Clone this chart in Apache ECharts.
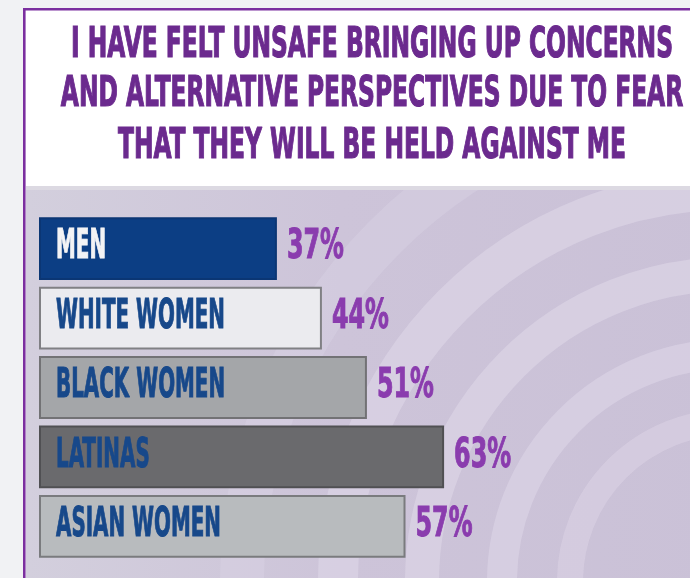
<!DOCTYPE html>
<html>
<head>
<meta charset="utf-8">
<style>
  html, body { margin: 0; padding: 0; background: #f1f2f4; }
  #chart { width: 690px; height: 578px; }
</style>
<script src="https://cdn.jsdelivr.net/npm/echarts@6/dist/echarts.min.js"></script>
</head>
<body>
<div id="chart"></div>
<script>
// Survey responses: share who felt unsafe raising concerns
const titleLines = [
  'I HAVE FELT UNSAFE BRINGING UP CONCERNS',
  'AND ALTERNATIVE PERSPECTIVES DUE TO FEAR',
  'THAT THEY WILL BE HELD AGAINST ME'
];
const categories = ['MEN', 'WHITE WOMEN', 'BLACK WOMEN', 'LATINAS', 'ASIAN WOMEN'];
const values = [37, 44, 51, 63, 57];

// Bar styling, one entry per category
const barFills   = ['#0c3e84', '#ebebef', '#a4a6a9', '#6a6a6d', '#b8bbbe'];
const barBorders = ['#0b3674', '#808084', '#727275', '#505053', '#7a7b7e'];
const nameColors = ['#f3f3f5', '#17488a', '#17488a', '#17488a', '#17488a'];

const FONT_STACK = '"Liberation Sans Narrow", "DejaVu Sans Condensed", "Liberation Sans", sans-serif';
const font = size => '700 ' + size + 'px ' + FONT_STACK;

// Condensed display lettering: squeeze a narrow bold face horizontally
const measureCtx = document.createElement('canvas').getContext('2d');
function textWidth(str, f) { measureCtx.font = f; return measureCtx.measureText(str).width; }
const TEXT_SIZE = 41;
const nameScale  = 169 / textWidth('WHITE WOMEN', font(TEXT_SIZE));
const valueScale = 57 / textWidth('63%', font(TEXT_SIZE));
const titleScale = 602 / textWidth(titleLines[0], font(TEXT_SIZE + 1));

const chart = echarts.init(document.getElementById('chart'), null, { renderer: 'canvas' });

// Background: card, lavender panel with soft concentric bands, title
const ringCx = 730, ringCy = 582;
const rings = [
  { r: 488, w: 44, c: 'rgba(222,216,232,0.35)' },
  { r: 392, w: 40, c: 'rgba(220,212,230,0.7)' },
  { r: 308, w: 34, c: 'rgba(220,212,230,0.7)' },
  { r: 228, w: 30, c: 'rgba(220,212,230,0.65)' },
  { r: 160, w: 26, c: 'rgba(220,212,230,0.55)' }
];
const graphics = [
  { type: 'rect', z: -10, shape: { x: 24, y: 9, width: 700, height: 600 }, style: { fill: '#ffffff' } },
  {
    type: 'rect', z: -9, shape: { x: 26, y: 188, width: 700, height: 400 },
    style: {
      fill: new echarts.graphic.LinearGradient(0, 0, 1, 0, [
        { offset: 0, color: '#d3cfdd' },
        { offset: 0.45, color: '#cdc4d9' },
        { offset: 1, color: '#cac1d7' }
      ])
    }
  }
];
rings.forEach(rg => {
  graphics.push({
    type: 'circle', z: -8,
    shape: { cx: ringCx, cy: ringCy, r: rg.r },
    style: { fill: 'none', stroke: rg.c, lineWidth: rg.w }
  });
});
graphics.push(
  { type: 'rect', z: -7, shape: { x: 26, y: 11, width: 700, height: 177 }, style: { fill: '#ffffff' } },
  { type: 'rect', z: -7, shape: { x: 26, y: 186, width: 700, height: 4 }, style: { fill: '#dcd9e2' } },
  { type: 'rect', z: -6, shape: { x: 23, y: 8, width: 2.6, height: 580 }, style: { fill: '#7b2f9f' } },
  { type: 'rect', z: -6, shape: { x: 23, y: 8, width: 700, height: 2.6 }, style: { fill: '#7b2f9f' } }
);
const titleCenters = [46, 95, 147.5];
titleLines.forEach((line, i) => {
  graphics.push({
    type: 'text', z: 5,
    x: 372, y: titleCenters[i], scaleX: titleScale,
    style: {
      text: line, font: font(TEXT_SIZE + 1), fill: '#6b2a8e',
      stroke: '#6b2a8e', lineWidth: 1.2,
      align: 'center', verticalAlign: 'middle'
    }
  });
});

function renderBar(params, api) {
  const idx = api.value(0);
  const val = api.value(1);
  const start = api.coord([0, idx]);
  const end = api.coord([val, idx]);
  const band = api.size([0, 1])[1];
  const h = band * 0.905;
  const x0 = start[0], x1 = end[0], yc = end[1];
  return {
    type: 'group',
    children: [
      {
        type: 'rect',
        shape: { x: x0 + 1, y: yc - h / 2 + 1, width: x1 - x0 - 2, height: h - 2 },
        style: { fill: barFills[idx], stroke: barBorders[idx], lineWidth: 2 }
      },
      {
        type: 'text', x: x0 + 17, y: yc - 1, scaleX: nameScale,
        style: {
          text: categories[idx], font: font(TEXT_SIZE), fill: nameColors[idx],
          stroke: nameColors[idx], lineWidth: 1,
          align: 'left', verticalAlign: 'middle'
        }
      },
      {
        type: 'text', x: x1 + 10, y: yc - 1, scaleX: valueScale,
        style: {
          text: val + '%', font: font(TEXT_SIZE), fill: '#8a3cae',
          stroke: '#8a3cae', lineWidth: 1,
          align: 'left', verticalAlign: 'middle'
        }
      }
    ]
  };
}

chart.setOption({
  animation: false,
  graphic: graphics,
  grid: { left: 39, right: 8, top: 214, bottom: 17 },
  xAxis: { type: 'value', min: 0, max: 100, show: false },
  yAxis: { type: 'category', data: categories, inverse: true, show: false },
  series: [{
    type: 'custom',
    renderItem: renderBar,
    encode: { x: 1, y: 0 },
    data: values.map((v, i) => [i, v])
  }]
});
</script>
</body>
</html>
